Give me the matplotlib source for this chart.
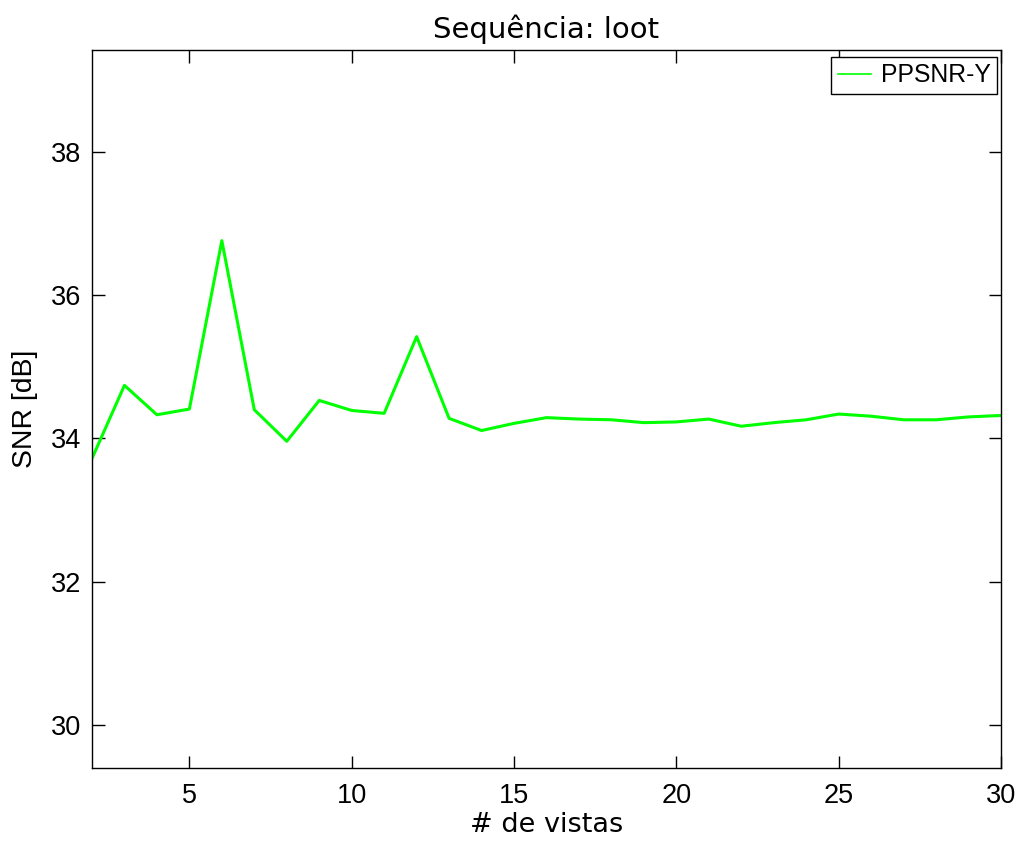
import numpy as np
import matplotlib
matplotlib.use('Agg')
import matplotlib.pyplot as plt

# numero de vistas
vistas = np.arange(2, 31)
ppsnr_y = [33.72, 34.74, 34.33, 34.41, 36.76, 34.40, 33.96, 34.53, 34.39, 34.35,
           35.42, 34.28, 34.11, 34.21, 34.29, 34.27, 34.26, 34.22, 34.23, 34.27,
           34.17, 34.22, 34.26, 34.34, 34.31, 34.26, 34.26, 34.30, 34.32]

fig = plt.figure(figsize=(10.21, 8.48), dpi=100)
ax = fig.add_axes([0.0901, 0.0943, 0.8903, 0.8467])

ax.plot(vistas, ppsnr_y, color='#00ff00', lw=2.2, label='PPSNR-Y')

ax.set_xlim(2, 30)
ax.set_ylim(29.4, 39.42)
ax.set_xticks([5, 10, 15, 20, 25, 30])
ax.set_yticks([30, 32, 34, 36, 38])
ax.tick_params(direction='in', length=9, width=1, top=True, right=True,
               labelsize=19.5)
ax.tick_params(axis='x', pad=11)
ax.tick_params(axis='y', pad=8)
for lbl in ax.get_xticklabels() + ax.get_yticklabels():
    lbl.set_family('Liberation Sans')
for s in ax.spines.values():
    s.set_linewidth(1)

ax.set_title('Sequência: loot', fontsize=21, family='DejaVu Sans', pad=9)
ax.set_xlabel('# de vistas', fontsize=19.5, family='DejaVu Sans', labelpad=2)
ax.set_ylabel('SNR [dB]', fontsize=20.4, family='Liberation Sans', labelpad=9)

leg = ax.legend(loc='upper right', bbox_to_anchor=(0.9956, 0.99),
                prop={'family': 'Liberation Sans', 'size': 17.8},
                fancybox=False, edgecolor='black', framealpha=1,
                handlelength=1.35, handletextpad=0.4, borderpad=0.25,
                borderaxespad=0)
leg.get_frame().set_linewidth(1)
leg.get_lines()[0].set_linewidth(1.2)

fig.savefig('out.png', dpi=100)
